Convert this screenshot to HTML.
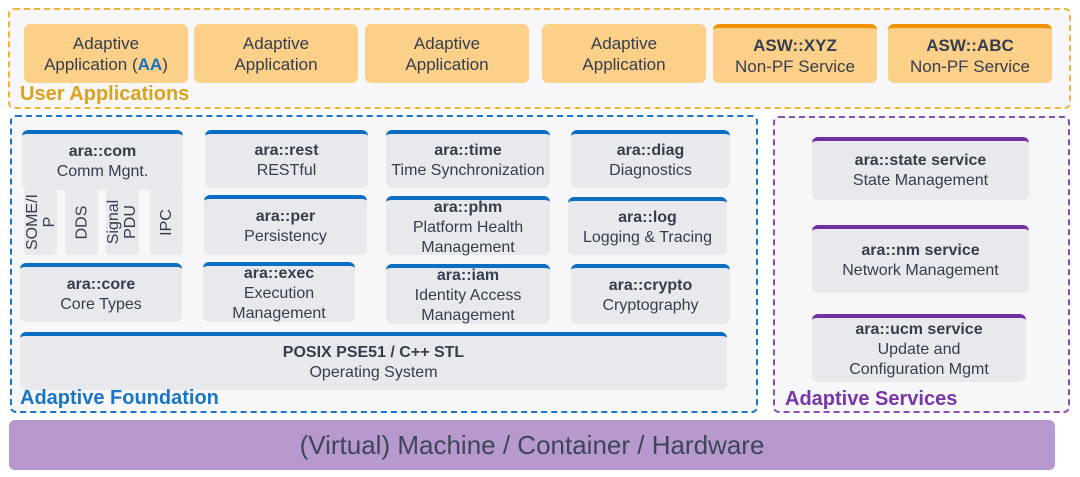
<!DOCTYPE html>
<html><head><meta charset="utf-8"><style>
*{box-sizing:border-box;margin:0;padding:0}
body{width:1080px;height:477px;background:#fff;position:relative;overflow:hidden;font-family:"Liberation Sans",sans-serif;color:#343e4e}
.a{position:absolute}
.dash{position:absolute;border:2px dashed;border-radius:6px;background:#f7f7f9}
.o{position:absolute;background:#fdd08a;border-radius:6px;display:flex;flex-direction:column;justify-content:center;align-items:center;text-align:center;font-size:17px;line-height:21px}
.g{position:absolute;background:#e8e9ed;border-radius:6px;border-top:4px solid #0a6fc2;display:flex;flex-direction:column;justify-content:center;align-items:center;text-align:center;font-size:16px;line-height:20px}
.p{border-top-color:#7030a0}
b{font-weight:bold}
.col{position:absolute;background:#e8e9ed;border-radius:4px;top:189px;height:66px;display:flex;align-items:center;justify-content:center}
.col span{transform:rotate(-90deg);font-size:16px;line-height:17px;text-align:center;white-space:nowrap}
.lbl{position:absolute;font-weight:bold;font-size:20px}
</style></head><body>
<div class="dash" style="left:8px;top:8px;width:1063px;height:101px;border-color:#f0b63a"></div>
<div class="o" style="left:24px;top:24px;width:164px;height:59px">Adaptive<br><span>Application (<b style="color:#1a6fc0">AA</b>)</span></div>
<div class="o" style="left:194px;top:24px;width:164px;height:59px">Adaptive<br>Application</div>
<div class="o" style="left:365px;top:24px;width:164px;height:59px">Adaptive<br>Application</div>
<div class="o" style="left:542px;top:24px;width:164px;height:59px">Adaptive<br>Application</div>
<div class="o" style="left:713px;top:24px;width:164px;height:59px;border-top:4px solid #f39200"><b>ASW::XYZ</b>Non-PF Service</div>
<div class="o" style="left:888px;top:24px;width:164px;height:59px;border-top:4px solid #f39200"><b>ASW::ABC</b>Non-PF Service</div>
<div class="lbl" style="left:20px;top:83px;color:#dba21c">User Applications</div>

<div class="dash" style="left:10px;top:115px;width:748px;height:298px;border-color:#1a75c4"></div>
<div class="dash" style="left:773px;top:116px;width:297px;height:297px;border-color:#8a4fb0"></div>

<div class="g" style="left:22px;top:130px;width:161px;height:60px;justify-content:flex-start;padding-top:8px"><b>ara::com</b>Comm Mgnt.</div>
<div class="col" style="left:24px;width:33px"><span>SOME/I<br>P</span></div>
<div class="col" style="left:65px;width:33px"><span>DDS</span></div>
<div class="col" style="left:106px;width:33px"><span>Signal<br>PDU</span></div>
<div class="col" style="left:150px;width:33px"><span>IPC</span></div>

<div class="g" style="left:205px;top:130px;width:163px;height:58px"><b>ara::rest</b>RESTful</div>
<div class="g" style="left:204px;top:195px;width:163px;height:60px"><b>ara::per</b>Persistency</div>
<div class="g" style="left:386px;top:130px;width:164px;height:58px"><b>ara::time</b>Time Synchronization</div>
<div class="g" style="left:386px;top:196px;width:164px;height:59px"><b>ara::phm</b>Platform Health<br>Management</div>
<div class="g" style="left:571px;top:130px;width:159px;height:58px"><b>ara::diag</b>Diagnostics</div>
<div class="g" style="left:568px;top:197px;width:159px;height:58px"><b>ara::log</b>Logging &amp; Tracing</div>
<div class="g" style="left:20px;top:263px;width:162px;height:59px"><b>ara::core</b>Core Types</div>
<div class="g" style="left:203px;top:262px;width:152px;height:60px"><b>ara::exec</b>Execution<br>Management</div>
<div class="g" style="left:386px;top:264px;width:164px;height:60px"><b>ara::iam</b>Identity Access<br>Management</div>
<div class="g" style="left:571px;top:264px;width:159px;height:60px"><b>ara::crypto</b>Cryptography</div>
<div class="g" style="left:20px;top:332px;width:707px;height:58px"><b>POSIX PSE51 / C++ STL</b>Operating System</div>
<div class="lbl" style="left:20px;top:387px;color:#1a75c4">Adaptive Foundation</div>

<div class="g p" style="left:812px;top:137px;width:217px;height:63px"><b>ara::state service</b>State Management</div>
<div class="g p" style="left:812px;top:225px;width:217px;height:68px"><b>ara::nm service</b>Network Management</div>
<div class="g p" style="left:812px;top:314px;width:214px;height:68px"><b>ara::ucm service</b>Update and<br>Configuration Mgmt</div>
<div class="lbl" style="left:785px;top:388px;color:#7a35a8">Adaptive Services</div>

<div class="a" style="left:9px;top:420px;width:1046px;height:50px;background:#b799cd;border-radius:6px;display:flex;align-items:center;justify-content:center;font-size:26px;color:#3c4658">(Virtual) Machine / Container / Hardware</div>
</body></html>
